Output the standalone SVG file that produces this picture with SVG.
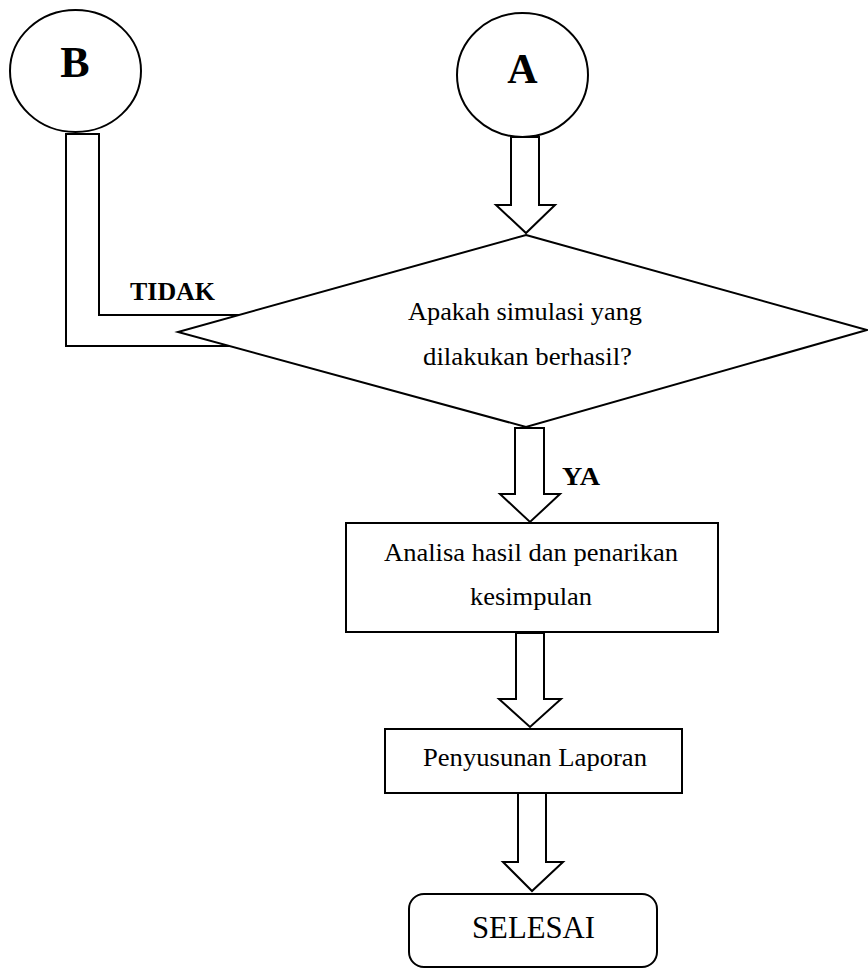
<svg xmlns="http://www.w3.org/2000/svg" width="868" height="969" viewBox="0 0 868 969">
<style>
.s{fill:#fff;stroke:#000;stroke-width:2;stroke-linejoin:miter}
.c{fill:none;stroke:#000;stroke-width:2}
.t{font-family:"Liberation Serif","Times New Roman",serif;fill:#000}
.r{text-anchor:middle}
.b{font-weight:bold}
</style>
<rect width="868" height="969" fill="#fff"/>
<g id="connectors">
<path class="c" d="M229,346 L66,346 L66,134 L99,134 L99,315 L239,315"/>
<polygon class="s" points="511,137 539,137 539,205 555,205 526,233 496,205 511,205"/>
<polygon class="s" points="515,428 544,428 544,494 560,494 530,522 500,494 515,494"/>
<polygon class="s" points="516,633 544,633 544,699 561,699 530,727 499,699 516,699"/>
<polygon class="s" points="518,793 546,793 546,862 563,862 532,891 503,862 518,862"/>
<text class="t b" x="130" y="300" font-size="25" textLength="85" lengthAdjust="spacingAndGlyphs">TIDAK</text>
<text class="t b" x="562" y="485" font-size="26" textLength="38" lengthAdjust="spacingAndGlyphs">YA</text>
</g>
<g id="nodeB">
<ellipse class="s" cx="75.5" cy="71" rx="65.5" ry="61"/>
<text class="t b" x="75" y="77" font-size="44" text-anchor="middle">B</text>
</g>
<g id="nodeA">
<ellipse class="s" cx="522.5" cy="75" rx="65.5" ry="62"/>
<text class="t b" x="522.5" y="83" font-size="42" text-anchor="middle">A</text>
</g>
<g id="decision">
<polygon class="s" points="526,235 867,330 526,427 178,332"/>
<text class="t r" x="525" y="320" font-size="25" textLength="234" lengthAdjust="spacingAndGlyphs">Apakah simulasi yang</text>
<text class="t r" x="527.5" y="365" font-size="25" textLength="209" lengthAdjust="spacingAndGlyphs">dilakukan berhasil?</text>
</g>
<g id="analisa">
<rect class="s" x="346" y="523" width="372" height="109"/>
<text class="t r" x="531" y="561" font-size="25" textLength="294" lengthAdjust="spacingAndGlyphs">Analisa hasil dan penarikan</text>
<text class="t r" x="531" y="605" font-size="25" textLength="122" lengthAdjust="spacingAndGlyphs">kesimpulan</text>
</g>
<g id="laporan">
<rect class="s" x="385" y="729" width="297" height="64"/>
<text class="t r" x="535" y="766" font-size="25" textLength="224" lengthAdjust="spacingAndGlyphs">Penyusunan Laporan</text>
</g>
<g id="selesai">
<rect class="s" x="409" y="894" width="248" height="73" rx="15" ry="15"/>
<text class="t" x="533.5" y="938" font-size="32" text-anchor="middle" textLength="123" lengthAdjust="spacingAndGlyphs">SELESAI</text>
</g>
</svg>
